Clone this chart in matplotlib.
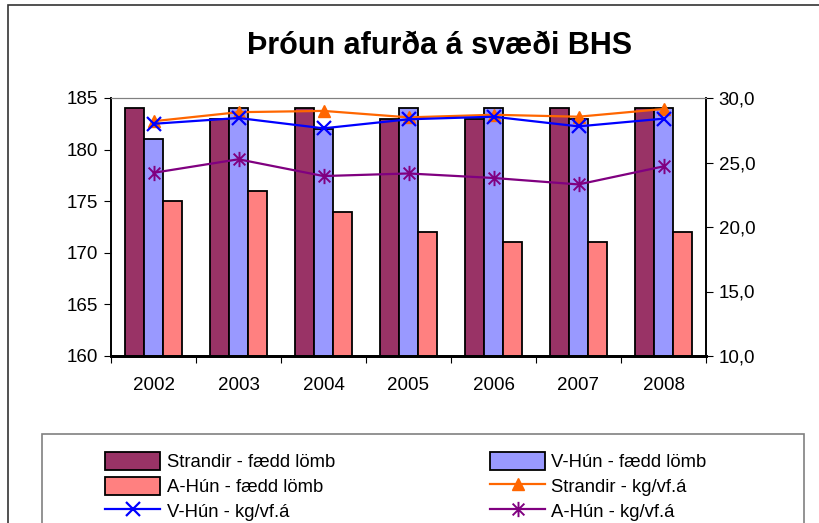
import matplotlib
matplotlib.use('Agg')
import matplotlib.pyplot as plt
import numpy as np
from matplotlib.patches import Rectangle
from matplotlib.path import Path
from matplotlib.ticker import FuncFormatter

# data
years = ['2002', '2003', '2004', '2005', '2006', '2007', '2008']
strandir_lomb = [184, 183, 184, 183, 183, 184, 184]
vhun_lomb = [181, 184, 182, 184, 184, 183, 184]
ahun_lomb = [175, 176, 174, 172, 171, 171, 172]
strandir_kg = [28.2, 28.9, 29.0, 28.5, 28.7, 28.55, 29.15]
vhun_kg = [28.0, 28.45, 27.65, 28.35, 28.55, 27.8, 28.4]
ahun_kg = [24.2, 25.25, 23.95, 24.15, 23.8, 23.3, 24.7]

plt.rcParams['font.family'] = ['Liberation Sans', 'DejaVu Sans']

fig = plt.figure(figsize=(8.19, 5.23), dpi=100)
ax = fig.add_axes([111/819, 1-356/523, (706-111)/819, (356-98)/523])
ax2 = ax.twinx()

x = np.arange(len(years))
w = 0.222
ax.bar(x - w, strandir_lomb, w, color='#993366', edgecolor='black', linewidth=1.3,
       label='Strandir - fædd lömb', zorder=2)
ax.bar(x, vhun_lomb, w, color='#9999FF', edgecolor='black', linewidth=1.3,
       label='V-Hún - fædd lömb', zorder=2)
ax.bar(x + w, ahun_lomb, w, color='#FF8080', edgecolor='black', linewidth=1.3,
       label='A-Hún - fædd lömb', zorder=2)

# excel style asterisk: an x with a vertical stroke
star = Path([(-1, -1), (1, 1), (-1, 1), (1, -1), (0, -1.3), (0, 1.3)],
            [Path.MOVETO, Path.LINETO, Path.MOVETO, Path.LINETO, Path.MOVETO, Path.LINETO])

ax2.plot(x, strandir_kg, color='#FF6600', lw=1.6, marker='^', ms=9,
         label='Strandir - kg/vf.á')
ax2.plot(x, vhun_kg, color='#0000FF', lw=1.6, marker='x', ms=10, mew=1.6,
         label='V-Hún - kg/vf.á')
ax2.plot(x, ahun_kg, color='#800080', lw=1.6, marker=star, ms=11, mew=1.4,
         label='A-Hún - kg/vf.á')

ax.set_xlim(-0.5, len(years) - 0.5)
ax.set_ylim(160, 185)
ax.set_yticks(range(160, 186, 5))
ax2.set_ylim(10, 30)
ax2.set_yticks(range(10, 31, 5))
ax2.yaxis.set_major_formatter(FuncFormatter(lambda v, p: f'{v:.1f}'.replace('.', ',')))

# ticks between categories, labels at centres
ax.set_xticks(np.arange(-0.5, len(years), 1))
ax.set_xticklabels([])
ax.set_xticks(x, minor=True)
ax.set_xticklabels(years, minor=True)
ax.tick_params(axis='x', which='minor', length=0, pad=15, labelsize=13.5)
ax.tick_params(axis='x', which='major', length=5, direction='out')
ax.tick_params(axis='y', length=5, direction='out', labelsize=13.5, pad=4)
ax2.tick_params(axis='y', length=5, direction='out', labelsize=13.5, pad=4)

for a in (ax, ax2):
    a.spines['top'].set_color('#808080')
    a.spines['left'].set_linewidth(1.2)
    a.spines['right'].set_linewidth(1.2)
    a.spines['bottom'].set_linewidth(2)

fig.text(440/819, 1-46/523, 'Þróun afurða á svæði BHS', ha='center', va='center',
         fontsize=22, fontweight='bold')

# outer chart border
fig.add_artist(Rectangle((8/819, -0.2), 1.1, 1.2 - 5/523, transform=fig.transFigure,
                         fill=False, edgecolor='#333333', linewidth=1.2, clip_on=False))
# legend frame, running off the bottom of the picture
fig.add_artist(Rectangle((42/819, -0.1), (804-42)/819, 0.1 + 1 - 434/523,
                         transform=fig.transFigure, fill=False, edgecolor='#808080',
                         linewidth=1.2, clip_on=False))

h1, l1 = ax.get_legend_handles_labels()
h2, l2 = ax2.get_legend_handles_labels()
handles = [h1[0], h1[2], h2[1], h1[1], h2[0], h2[2]]
labels = [l1[0], l1[2], l2[1], l1[1], l2[0], l2[2]]
fig.legend(handles, labels, loc='upper left', ncol=2,
           bbox_to_anchor=(105/819, 1-452/523),
           fontsize=13.3, frameon=False,
           handlelength=3.0, handleheight=1.15, handletextpad=0.33,
           labelspacing=0.28, columnspacing=8.4, borderpad=0, borderaxespad=0)

fig.savefig('out.png', dpi=100)
